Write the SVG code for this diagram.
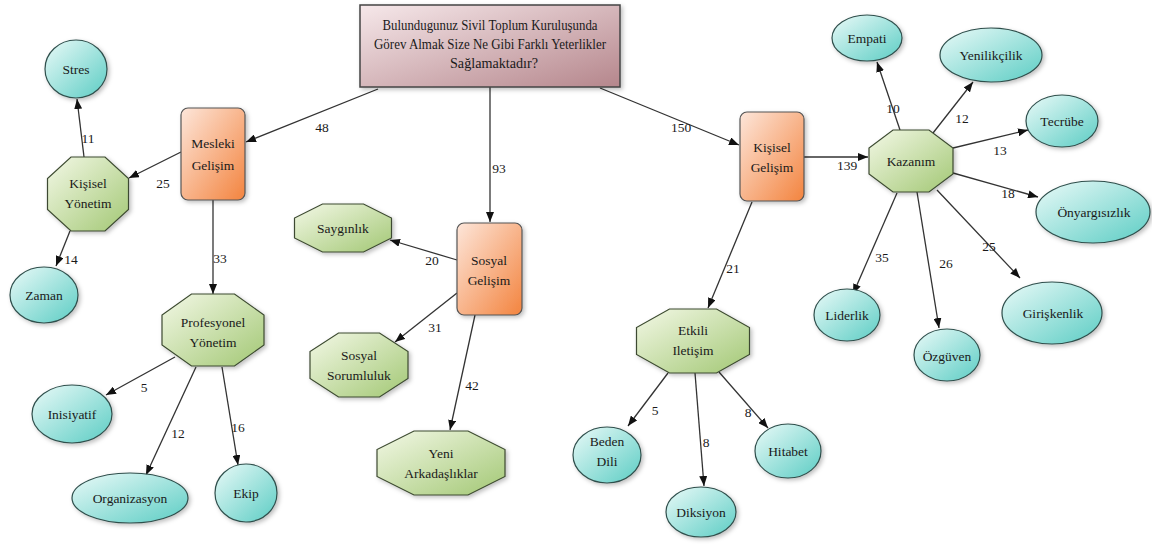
<svg xmlns="http://www.w3.org/2000/svg" width="1152" height="545" viewBox="0 0 1152 545">
<style>
text{font-family:"Liberation Serif","Times New Roman",serif;fill:#1a1a1a;}
.n{font-size:13.5px;text-anchor:middle;}
.t{font-size:15px;text-anchor:middle;}
.l{font-size:13.5px;text-anchor:middle;}
.ell{fill:url(#gT);stroke:#2f4f4c;stroke-width:1.2;filter:url(#sh);}
.oct{fill:url(#gG);stroke:#3c4a30;stroke-width:1.2;filter:url(#sh);}
.box{fill:url(#gO);stroke:#555;stroke-width:1.2;filter:url(#sh);}
.top{fill:url(#gP);stroke:#444;stroke-width:1.5;filter:url(#sh);}
#edges line{stroke:#333;stroke-width:1.3;marker-end:url(#arr);}
</style>
<defs>
<linearGradient id="gT" x1="0" y1="0" x2="1" y2="1"><stop offset="0" stop-color="#eafaf8"/><stop offset="1" stop-color="#5ccdc4"/></linearGradient>
<linearGradient id="gG" x1="0" y1="0" x2="1" y2="1"><stop offset="0" stop-color="#f3f8e6"/><stop offset="1" stop-color="#a3c875"/></linearGradient>
<linearGradient id="gO" x1="0" y1="0" x2="1" y2="1"><stop offset="0" stop-color="#fde6da"/><stop offset="1" stop-color="#f3843f"/></linearGradient>
<linearGradient id="gP" x1="0" y1="0" x2="1" y2="1"><stop offset="0" stop-color="#f6e8ea"/><stop offset="1" stop-color="#b5868c"/></linearGradient>
<filter id="sh" x="-20%" y="-20%" width="140%" height="140%"><feDropShadow dx="2" dy="2" stdDeviation="2" flood-color="#000" flood-opacity="0.25"/></filter>
<marker id="arr" viewBox="0 0 10 8" refX="10" refY="4" markerWidth="10" markerHeight="8" markerUnits="userSpaceOnUse" orient="auto"><path d="M0,0 L10,4 L0,8 z" fill="#111"/></marker>
</defs>

<g id="edges">
<line x1="378" y1="89" x2="246" y2="142"/>
<line x1="490" y1="87" x2="490" y2="222"/>
<line x1="600" y1="88" x2="739" y2="145"/>
<line x1="181" y1="152" x2="129" y2="178"/>
<line x1="84" y1="157" x2="77" y2="99"/>
<line x1="70" y1="231" x2="56" y2="266"/>
<line x1="213" y1="200" x2="213" y2="294"/>
<line x1="175" y1="357" x2="106" y2="395"/>
<line x1="196" y1="367" x2="146" y2="475"/>
<line x1="222" y1="367" x2="238" y2="465"/>
<line x1="457" y1="260" x2="390" y2="240"/>
<line x1="457" y1="293" x2="395" y2="342"/>
<line x1="475" y1="315" x2="450" y2="430"/>
<line x1="804" y1="157" x2="868" y2="157"/>
<line x1="752" y1="202" x2="708" y2="308"/>
<line x1="668" y1="373" x2="628" y2="426"/>
<line x1="695" y1="373" x2="704" y2="486"/>
<line x1="719" y1="372" x2="768" y2="428"/>
<line x1="900" y1="130" x2="877" y2="62"/>
<line x1="933" y1="133" x2="973" y2="82"/>
<line x1="953" y1="148" x2="1028" y2="130"/>
<line x1="953" y1="173" x2="1038" y2="197"/>
<line x1="937" y1="190" x2="1020" y2="278"/>
<line x1="917" y1="192" x2="939" y2="328"/>
<line x1="897" y1="193" x2="853" y2="294"/>
</g>

<g id="edge-labels">
<text class="l" x="322" y="132">48</text>
<text class="l" x="499" y="173">93</text>
<text class="l" x="681" y="132">150</text>
<text class="l" x="163" y="188">25</text>
<text class="l" x="88" y="143">11</text>
<text class="l" x="71" y="264">14</text>
<text class="l" x="220" y="263">33</text>
<text class="l" x="144" y="392">5</text>
<text class="l" x="178" y="438">12</text>
<text class="l" x="238" y="432">16</text>
<text class="l" x="432" y="265">20</text>
<text class="l" x="435" y="332">31</text>
<text class="l" x="472" y="390">42</text>
<text class="l" x="847" y="170">139</text>
<text class="l" x="733" y="273">21</text>
<text class="l" x="655" y="415">5</text>
<text class="l" x="706" y="447">8</text>
<text class="l" x="748" y="417">8</text>
<text class="l" x="893" y="113">10</text>
<text class="l" x="962" y="123">12</text>
<text class="l" x="1000" y="155">13</text>
<text class="l" x="1008" y="198">18</text>
<text class="l" x="989" y="251">25</text>
<text class="l" x="946" y="268">26</text>
<text class="l" x="882" y="262">35</text>
</g>

<g id="root">
<rect class="top" x="360" y="5" width="260" height="82"/>
<text class="t" x="490" y="30" textLength="215" lengthAdjust="spacingAndGlyphs">Bulundugunuz Sivil Toplum Kuruluşunda</text>
<text class="t" x="490" y="49" textLength="232" lengthAdjust="spacingAndGlyphs">Görev Almak Size Ne Gibi Farklı Yeterlikler</text>
<text class="t" x="494" y="68" textLength="88" lengthAdjust="spacingAndGlyphs">Sağlamaktadır?</text>
</g>

<g id="mesleki">
<rect class="box" x="181" y="108" width="64" height="92" rx="7"/>
<text class="n" x="213" y="148">Mesleki</text>
<text class="n" x="213" y="170">Gelişim</text>
</g>
<g id="sosyal">
<rect class="box" x="457" y="223" width="65" height="92" rx="7"/>
<text class="n" x="489" y="265">Sosyal</text>
<text class="n" x="489" y="285">Gelişim</text>
</g>
<g id="kisisel-gelisim">
<rect class="box" x="740" y="112" width="64" height="89" rx="7"/>
<text class="n" x="772" y="152">Kişisel</text>
<text class="n" x="772" y="172">Gelişim</text>
</g>

<g id="kisisel-yonetim">
<polygon class="oct" points="71,157 105,157 128.5,178.5 128.5,209.5 105,231 71,231 47.5,209.5 47.5,178.5"/>
<text class="n" x="88" y="188">Kişisel</text>
<text class="n" x="88" y="208">Yönetim</text>
</g>
<g id="profesyonel-yonetim">
<polygon class="oct" points="191.5,294 234.5,294 264,315 264,345 234.5,366 191.5,366 162,345 162,315"/>
<text class="n" x="213" y="327">Profesyonel</text>
<text class="n" x="213" y="347">Yönetim</text>
</g>
<g id="saygilik">
<polygon class="oct" points="322.5,204 363.5,204 391.5,218 391.5,238 363.5,252 322.5,252 294.5,238 294.5,218"/>
<text class="n" x="343" y="233">Saygınlık</text>
</g>
<g id="sosyal-sorumluluk">
<polygon class="oct" points="338.5,333 379.5,333 408,351.5 408,378.5 379.5,397 338.5,397 310,378.5 310,351.5"/>
<text class="n" x="359" y="360">Sosyal</text>
<text class="n" x="359" y="380">Sorumluluk</text>
</g>
<g id="yeni-arkadasliklar">
<polygon class="oct" points="414,431 468,431 505,449.5 505,476.5 468,495 414,495 377,476.5 377,449.5"/>
<text class="n" x="441" y="458">Yeni</text>
<text class="n" x="441" y="478">Arkadaşlıklar</text>
</g>
<g id="etkili-iletisim">
<polygon class="oct" points="669.5,309 716.5,309 749.5,327.5 749.5,354.5 716.5,373 669.5,373 636.5,354.5 636.5,327.5"/>
<text class="n" x="693" y="335">Etkili</text>
<text class="n" x="693" y="355">Iletişim</text>
</g>
<g id="kazanim">
<polygon class="oct" points="893,130 929,130 953,148 953,174 929,192 893,192 869,174 869,148"/>
<text class="n" x="911" y="166">Kazanım</text>
</g>

<g id="stres"><ellipse class="ell" cx="76" cy="69" rx="31" ry="29"/><text class="n" x="76" y="74">Stres</text></g>
<g id="zaman"><ellipse class="ell" cx="44" cy="295" rx="34" ry="28"/><text class="n" x="44" y="300">Zaman</text></g>
<g id="inisiyatif"><ellipse class="ell" cx="72" cy="414" rx="40" ry="29"/><text class="n" x="72" y="419">Inisiyatif</text></g>
<g id="organizasyon"><ellipse class="ell" cx="130" cy="498" rx="58" ry="25"/><text class="n" x="130" y="503">Organizasyon</text></g>
<g id="ekip"><ellipse class="ell" cx="246" cy="493" rx="31" ry="29"/><text class="n" x="246" y="498">Ekip</text></g>
<g id="beden-dili"><ellipse class="ell" cx="607" cy="455" rx="34" ry="28"/><text class="n" x="607" y="446">Beden</text><text class="n" x="607" y="466">Dili</text></g>
<g id="diksiyon"><ellipse class="ell" cx="701" cy="512" rx="35" ry="25"/><text class="n" x="701" y="517">Diksiyon</text></g>
<g id="hitabet"><ellipse class="ell" cx="788" cy="451" rx="33" ry="27"/><text class="n" x="788" y="456">Hitabet</text></g>
<g id="empati"><ellipse class="ell" cx="867" cy="38" rx="35" ry="23"/><text class="n" x="867" y="43">Empati</text></g>
<g id="yenilikcilik"><ellipse class="ell" cx="991" cy="55" rx="51" ry="27"/><text class="n" x="991" y="60">Yenilikçilik</text></g>
<g id="tecrube"><ellipse class="ell" cx="1062" cy="121" rx="36" ry="26"/><text class="n" x="1062" y="126">Tecrübe</text></g>
<g id="onyargisizlik"><ellipse class="ell" cx="1093" cy="212" rx="57" ry="31"/><text class="n" x="1094" y="217">Önyargısızlık</text></g>
<g id="giriskenlik"><ellipse class="ell" cx="1052" cy="313" rx="50" ry="31"/><text class="n" x="1053" y="318">Girişkenlik</text></g>
<g id="ozguven"><ellipse class="ell" cx="947" cy="355" rx="33" ry="26"/><text class="n" x="947" y="361">Özgüven</text></g>
<g id="liderlik"><ellipse class="ell" cx="847" cy="315" rx="33" ry="26"/><text class="n" x="847" y="320">Liderlik</text></g>
</svg>
